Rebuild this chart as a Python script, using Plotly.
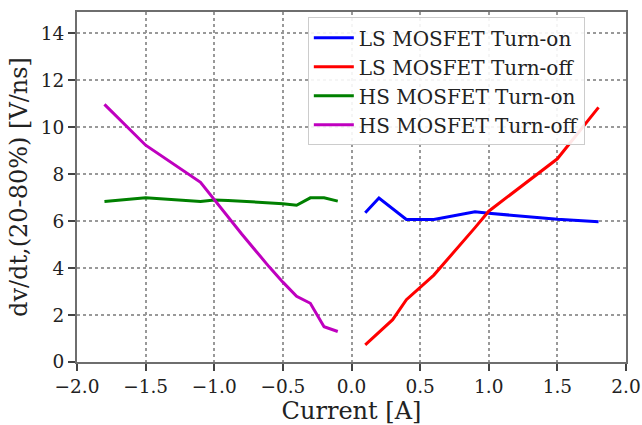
import plotly.graph_objects as go

ls_on_x = [0.1, 0.2, 0.4, 0.6, 0.9, 1.0, 1.5, 1.8]
ls_on_y = [6.35, 6.98, 6.07, 6.07, 6.4, 6.33, 6.08, 5.97]

ls_off_x = [0.1, 0.3, 0.4, 0.6, 0.9, 1.0, 1.5, 1.8]
ls_off_y = [0.73, 1.8, 2.65, 3.7, 5.72, 6.42, 8.65, 10.84]

hs_on_x = [-1.8, -1.5, -1.1, -1.0, -0.9, -0.5, -0.4, -0.3, -0.2, -0.1]
hs_on_y = [6.83, 6.99, 6.83, 6.9, 6.88, 6.74, 6.67, 6.99, 6.99, 6.85]

hs_off_x = [-1.8, -1.5, -1.1, -1.0, -0.9, -0.8, -0.7, -0.6, -0.5, -0.4, -0.3, -0.2, -0.1]
hs_off_y = [10.97, 9.23, 7.65, 6.9, 6.2, 5.45, 4.75, 4.05, 3.4, 2.8, 2.5, 1.5, 1.3]

x_ticks = [-2.0, -1.5, -1.0, -0.5, 0.0, 0.5, 1.0, 1.5, 2.0]
y_ticks = [0, 2, 4, 6, 8, 10, 12, 14]

font_family = "DejaVu Serif"

fig = go.Figure()
for name, xs, ys, col in [
    ("LS MOSFET Turn-on", ls_on_x, ls_on_y, "#0000ff"),
    ("LS MOSFET Turn-off", ls_off_x, ls_off_y, "#ff0000"),
    ("HS MOSFET Turn-on", hs_on_x, hs_on_y, "#008000"),
    ("HS MOSFET Turn-off", hs_off_x, hs_off_y, "#bf00bf"),
]:
    fig.add_trace(go.Scatter(x=xs, y=ys, mode="lines", name=name,
                             line=dict(color=col, width=3)))

axis_common = dict(
    showline=True, mirror=True, linecolor="#6e6e6e", linewidth=2,
    showgrid=True, gridcolor="#999999", griddash="dot", gridwidth=1.5,
    ticks="outside", ticklen=7, tickcolor="#444444", tickwidth=1.5,
    zeroline=False, automargin=False,
    tickfont=dict(family=font_family, size=18.5, color="#222222"),
)

fig.update_xaxes(
    range=[-2.0, 2.0], tickvals=x_ticks,
    ticktext=[("\u2212" if v < 0 else "") + f"{abs(v):.1f}" for v in x_ticks],
    title=dict(text="Current [A]", font=dict(family=font_family, size=24, color="#222222"), standoff=4),
    **axis_common,
)
fig.update_yaxes(
    range=[0, 14.9], tickvals=y_ticks,
    title=dict(text="dv/dt,(20-80%) [V/ns]", font=dict(family=font_family, size=24, color="#222222"), standoff=6),
    **axis_common,
)

fig.update_layout(
    width=642, height=425,
    margin=dict(l=77, r=16, t=12, b=63),
    plot_bgcolor="white", paper_bgcolor="white",
    font=dict(family=font_family, color="#222222"),
    legend=dict(
        x=0.925, xanchor="right", y=0.985, yanchor="top",
        bgcolor="rgba(255,255,255,0.9)", bordercolor="#cccccc", borderwidth=1,
        font=dict(family=font_family, size=20, color="#222222"),
        tracegroupgap=0, itemwidth=40,
    ),
)

fig.write_html("out.html")
